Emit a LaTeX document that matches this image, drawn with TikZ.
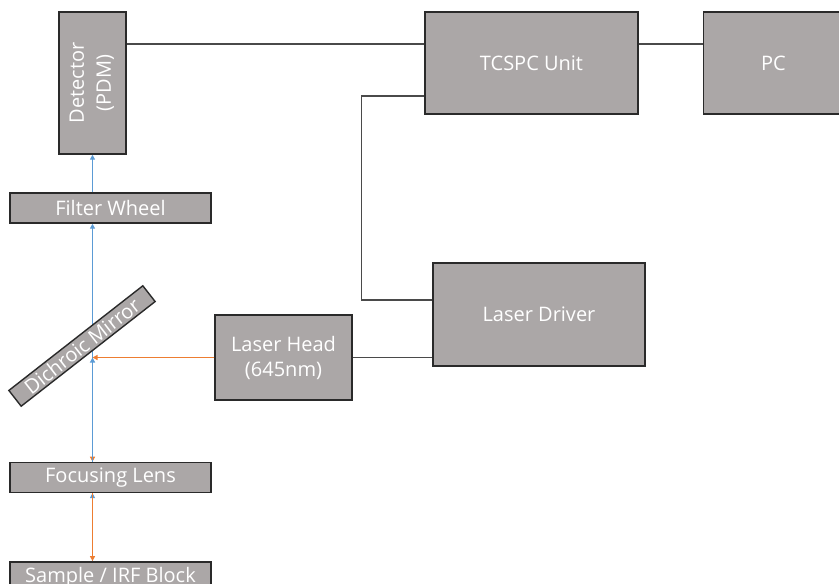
\documentclass[tikz,border=0pt]{standalone}
\usepackage{fontspec}
\setmainfont{Open Sans}
\usetikzlibrary{arrows.meta, positioning}
\definecolor{boxgray}{HTML}{ABA7A7}
\definecolor{edgegray}{HTML}{2A2A2A}
\definecolor{beamblue}{HTML}{5B9BD5}
\definecolor{beamorange}{HTML}{ED7D31}

\begin{document}
\begin{tikzpicture}[
    x=1pt, y=-1pt,
    block/.style={rectangle, draw=edgegray, fill=boxgray, line width=1.4pt,
                  text=white, align=center, inner sep=0pt,
                  font=\fontsize{20}{25}\selectfont},
    optic/.style={block, minimum width=201pt, minimum height=30pt},
    wire/.style={draw=edgegray!85, line width=1.3pt},
    blue beam/.style={-{Triangle[length=5pt, width=5pt]}, line width=1.2pt, color=beamblue},
    orange beam/.style={-{Triangle[length=5pt, width=5pt]}, line width=1.2pt, color=beamorange},
    node distance=0.5cm
]
    \useasboundingbox (0,0) rectangle (839,584);
    \clip (0,0) rectangle (839,584);

    % optical path
    \node[block, minimum width=67pt, minimum height=142pt] (det) at (92.5,83)
        {\rotatebox{90}{\begin{tabular}{@{}c@{}}Detector\\[2pt](PDM)\end{tabular}}};
    \node[optic] (fw) at (110.5,208) {Filter Wheel};
    \node[optic, below=238pt of fw] (lens) {Focusing Lens};
    \node[optic, below=68pt of lens] (smp) {Sample / IRF Block};
    \node[block, minimum width=137pt, minimum height=85pt] (lh) at (283.5,357.5) {Laser Head\\(645nm)};

    % electronics
    \node[block, minimum width=213pt, minimum height=102pt] (tcspc) at (531.5,63) {TCSPC Unit};
    \node[block, minimum width=140pt, minimum height=102pt, right=64pt of tcspc] (pc) {PC};
    \node[block, minimum width=212pt, minimum height=103pt] (ld) at (539,314.5) {Laser Driver};

    \coordinate (hit) at (det.south |- lh.west);

    \draw[wire] ([yshift=19pt]tcspc.west) -- ([yshift=19pt]tcspc.west -| det.east);
    \draw[wire] ([yshift=19pt]tcspc.east) -- ([yshift=19pt]pc.west);
    \draw[wire] ([yshift=-33pt]tcspc.west) -- ++(-63,0) |- ([yshift=14.5pt]ld.west);
    \draw[wire] (lh.east) -- (lh.east -| ld.west);

    % beams (mirror goes on top of them)
    \draw[blue beam] (hit) -- (fw.south -| det.south);
    \draw[blue beam] (fw.north -| det.south) -- (det.south);
    \draw[orange beam] (lh.west) -- (hit);
    \draw[orange beam] (hit) -- (lens.north -| det.south);
    \draw[blue beam] (lens.north -| det.south) -- (hit);
    \draw[blue beam] (smp.north -| det.south) -- (lens.south -| det.south);
    \draw[orange beam] (lens.south -| det.south) -- (smp.north -| det.south);

    \node[block, rotate=38, minimum width=170pt, minimum height=20pt] (dm) at (82,346) {Dichroic Mirror};
\end{tikzpicture}
\end{document}
